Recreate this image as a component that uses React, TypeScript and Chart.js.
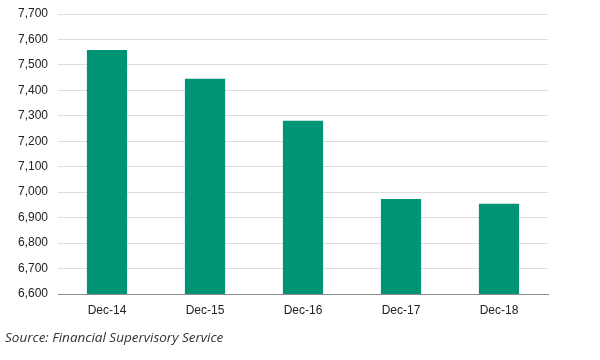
import React, { useEffect, useRef } from "react";
import { Chart, registerables } from "chart.js";

Chart.register(...registerables);

const categories = ["Dec-14", "Dec-15", "Dec-16", "Dec-17", "Dec-18"];
const values = [7559, 7446, 7281, 6973, 6955];
const yMin = 6600;
const yMax = 7700;
const yStep = 100;
const sourceText = "Source: Financial Supervisory Service";

export default function App() {
  const ref = useRef<HTMLCanvasElement | null>(null);

  useEffect(() => {
    document.body.style.margin = "0";
    if (!ref.current) return;
    const chart = new Chart(ref.current, {
      type: "bar",
      data: {
        labels: categories,
        datasets: [
          {
            data: values,
            backgroundColor: "#009474",
            borderWidth: 0,
            barPercentage: 0.41,
            categoryPercentage: 1,
          },
        ],
      },
      options: {
        animation: false,
        responsive: false,
        maintainAspectRatio: false,
        layout: { padding: { top: 14, left: 0, right: 52, bottom: 0 } },
        plugins: {
          legend: { display: false },
          tooltip: { enabled: false },
        },
        scales: {
          x: {
            grid: { display: false },
            border: { display: true, color: "#8c8c8c", width: 1 },
            ticks: {
              color: "#222",
              padding: 1,
              font: { family: "Liberation Sans, Arial, sans-serif", size: 12 },
            },
            afterFit: (s: any) => {
              s.height = 66;
              s.paddingLeft = 0;
              s.paddingRight = 0;
            },
          },
          y: {
            min: yMin,
            max: yMax,
            border: { display: false },
            grid: { color: "#dedede", lineWidth: 1, drawTicks: false },
            ticks: {
              stepSize: yStep,
              color: "#222",
              padding: 10,
              font: { family: "Liberation Sans, Arial, sans-serif", size: 12 },
              callback: (v: any) => Number(v).toLocaleString("en-US"),
            },
            afterFit: (s: any) => {
              s.width = 58;
              s.paddingTop = 0;
              s.paddingBottom = 0;
            },
          },
        },
      },
    });
    return () => chart.destroy();
  }, []);

  return (
    <div style={{ position: "relative", width: 600, height: 360 }}>
      <canvas ref={ref} width={600} height={360} style={{ display: "block" }} />
      <div
        style={{
          position: "absolute",
          left: 5,
          top: 328,
          fontFamily: "'Open Sans', sans-serif",
          fontStyle: "italic",
          fontSize: 13.5,
          color: "#333",
          whiteSpace: "nowrap",
        }}
      >
        {sourceText}
      </div>
    </div>
  );
}
